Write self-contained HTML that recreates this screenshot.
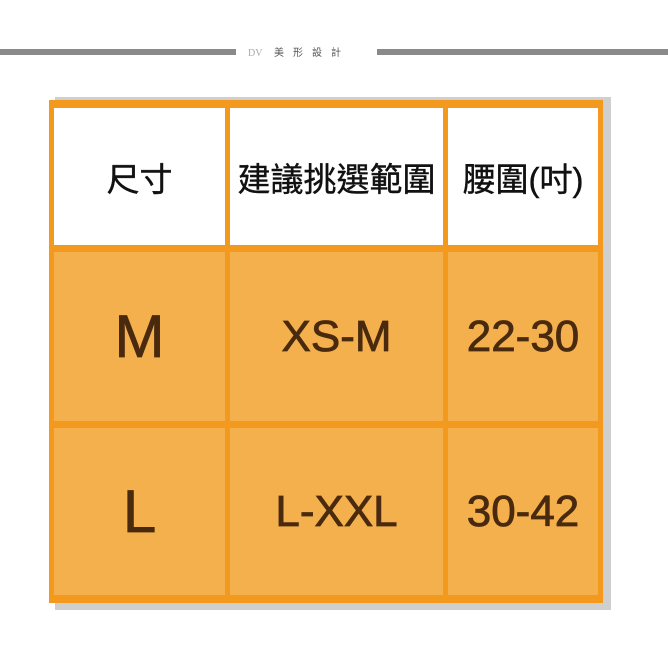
<!DOCTYPE html>
<html><head><meta charset="utf-8"><style>
body{margin:0;width:668px;height:668px;background:#fff;position:relative;overflow:hidden;font-family:"Liberation Sans","Noto Sans CJK TC",sans-serif}
.a{position:absolute}
.c{position:absolute;display:flex;align-items:center;justify-content:center}
.w{background:#fff;color:#111;font-size:33px;-webkit-text-stroke:0.4px #111}
.o{background:#F3B04C;color:#4a2a0e;-webkit-text-stroke:0.8px #4a2a0e}
</style></head><body>
<div class="a" style="left:0;top:49px;width:236px;height:6px;background:#8a8a8a"></div>
<div class="a" style="left:377px;top:49px;width:291px;height:6px;background:#8a8a8a"></div>
<div class="a" style="left:248px;top:44px;font-size:10px;color:#555;letter-spacing:9px;font-family:'Liberation Serif','Noto Sans CJK TC',serif"><span style="color:#aaa;letter-spacing:0">DV</span> 美形設計</div>
<div class="a" style="left:55px;top:97px;width:556px;height:513px;background:#cfcfcf"></div>
<div class="a" style="left:49px;top:100px;width:554px;height:503px;background:#F39A1E"></div>
<div class="c w" style="left:54px;top:108px;width:171px;height:137px">尺寸</div>
<div class="c w" style="left:230px;top:108px;width:213px;height:137px">建議挑選範圍</div>
<div class="c w" style="left:448px;top:108px;width:150px;height:137px">腰圍(吋)</div>
<div class="c o" style="left:54px;top:252px;width:171px;height:169px;font-size:60px">M</div>
<div class="c o" style="left:230px;top:252px;width:213px;height:169px;font-size:44px">XS-M</div>
<div class="c o" style="left:448px;top:252px;width:150px;height:169px;font-size:44px">22-30</div>
<div class="c o" style="left:54px;top:428px;width:171px;height:167px;font-size:60px">L</div>
<div class="c o" style="left:230px;top:428px;width:213px;height:167px;font-size:44px">L-XXL</div>
<div class="c o" style="left:448px;top:428px;width:150px;height:167px;font-size:44px">30-42</div>
</body></html>
